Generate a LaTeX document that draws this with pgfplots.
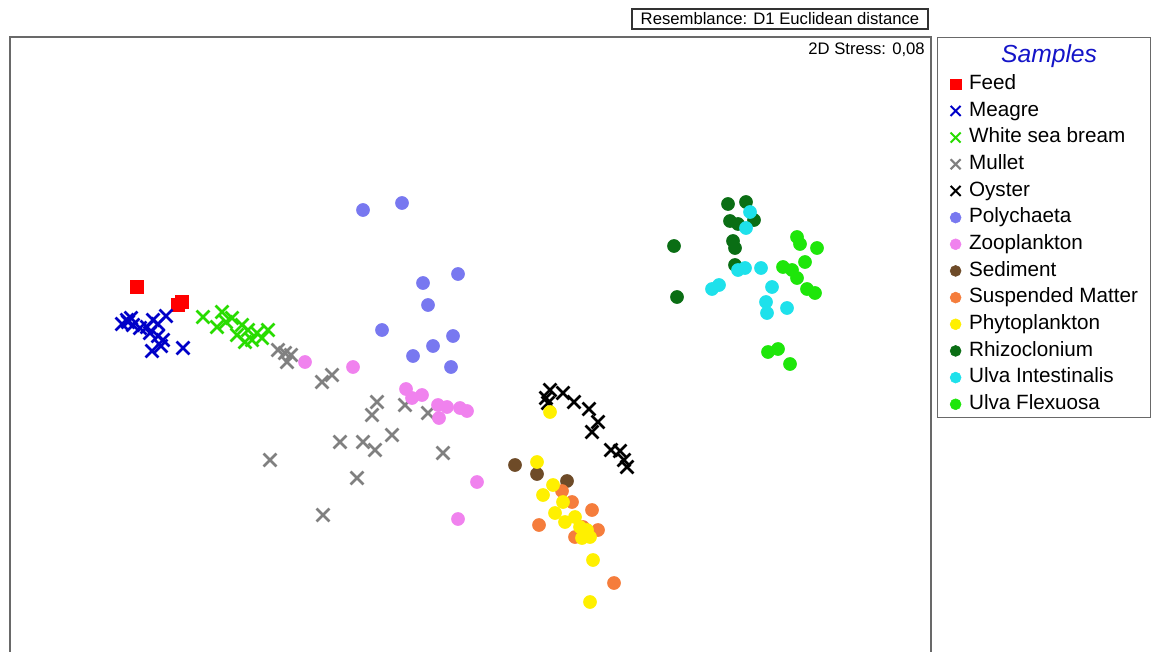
\documentclass[border=0pt]{standalone}
\usepackage{fontspec}
\setmainfont{Liberation Sans}
\usepackage{pgfplots}
\pgfplotsset{compat=1.18}

% colours
\definecolor{frame}{RGB}{105,105,105}
\definecolor{samp}{RGB}{20,20,200}
\definecolor{cFeed}{RGB}{255,0,0}
\definecolor{cMeagre}{RGB}{0,0,200}
\definecolor{cBream}{RGB}{40,220,0}
\definecolor{cMullet}{RGB}{128,128,128}
\definecolor{cOyster}{RGB}{0,0,0}
\definecolor{cPoly}{RGB}{120,120,240}
\definecolor{cZoo}{RGB}{240,130,238}
\definecolor{cSed}{RGB}{110,75,40}
\definecolor{cSusp}{RGB}{245,125,60}
\definecolor{cPhyto}{RGB}{255,240,0}
\definecolor{cRhizo}{RGB}{10,110,20}
\definecolor{cUlvaI}{RGB}{30,225,235}
\definecolor{cUlvaF}{RGB}{30,230,10}

\pgfplotsset{
  cross/.style={only marks, mark=x, mark size=6.8pt, color=#1,
    mark options={line width=2.1pt},
    legend image code/.code={\path[draw=none] (0pt,0pt) -- (17pt,0pt);
      \draw[##1, mark size=5.3pt, mark options={line width=1.5pt}] plot coordinates {(13.5pt,0pt)};}},
  dot/.style={only marks, mark=*, mark size=4.9pt, line width=0.4pt, color=#1},
  sq/.style={only marks, mark=square*, mark size=5pt, line width=0.4pt, color=#1},
}

\begin{document}
\begin{tikzpicture}
\begin{axis}[
  at={(0,0)}, anchor=north west,
  scale only axis, width=690.75pt, height=471pt,
  xmin=10, xmax=931, ymin=-665, ymax=-37,
  xtick=\empty, ytick=\empty,
  axis line style={draw=frame, line width=0.9pt},
  clip=false,
  legend style={at={(1.00651,1)}, anchor=north west, draw=frame, line width=0.9pt,
    font=\fontsize{15.5}{18}\selectfont, inner xsep=0pt, inner ysep=2.5pt,
    row sep=5pt, column sep=6pt,
    nodes={inner sep=0pt, text height=11.5pt, text depth=3.5pt}},
  legend cell align=left,
  legend image code/.code={\path[draw=none] (0pt,0pt) -- (17pt,0pt);
    \draw[#1, mark size=4.1pt] plot coordinates {(13.5pt,0pt)};},
]
\addlegendimage{empty legend}
\addlegendentry[text height=16.5pt]{\makebox[136pt][l]{\hspace{24pt}\color{samp}\fontsize{18.5}{20}\selectfont\itshape Samples}}

\addplot[sq=cFeed] coordinates {(137,-287) (182,-302) (178,-305)};
\addlegendentry{Feed}

\addplot[cross=cMeagre] coordinates {
  (127,-320) (122,-324) (131,-318) (133,-325) (128,-322) (153,-320) (158,-324)
  (166,-316) (150,-333) (158,-336) (163,-340) (152,-351) (161,-346) (183,-348)
  (147,-327) (140,-328)};
\addlegendentry{Meagre}

\addplot[cross=cBream] coordinates {
  (203,-317) (222,-312) (217,-327) (232,-318) (242,-325) (237,-335) (248,-330)
  (252,-340) (257,-333) (262,-338) (268,-330) (245,-342) (226,-322)};
\addlegendentry{White sea bream}

\addplot[cross=cMullet] coordinates {
  (278,-350) (285,-353) (291,-355) (287,-362) (322,-382) (332,-375) (377,-402)
  (372,-415) (405,-405) (428,-413) (340,-442) (363,-442) (375,-450) (392,-435)
  (443,-453) (270,-460) (357,-478) (323,-515)};
\addlegendentry{Mullet}

\addplot[cross=cOyster] coordinates {
  (550,-390) (548,-403) (546,-398) (563,-393) (574,-402) (589,-409) (598,-422)
  (592,-432) (611,-450) (620,-451) (624,-460) (627,-467)};
\addlegendentry{Oyster}

\addplot[dot=cPoly] coordinates {
  (363,-210) (402,-203) (423,-283) (458,-274) (428,-305) (382,-330) (453,-336)
  (433,-346) (413,-356) (451,-367)};
\addlegendentry{Polychaeta}

\addplot[dot=cZoo] coordinates {
  (305,-362) (353,-367) (406,-389) (412,-398) (422,-395) (438,-405) (447,-407)
  (460,-408) (467,-411) (439,-418) (477,-482) (458,-519)};
\addlegendentry{Zooplankton}

\addplot[dot=cSed] coordinates {(515,-465) (537,-474) (567,-481)};
\addlegendentry{Sediment}

\addplot[dot=cSusp] coordinates {
  (562,-491) (572,-502) (592,-510) (539,-525) (598,-530) (575,-537) (614,-583)
  (583,-527)};
\addlegendentry{Suspended Matter}

\addplot[dot=cPhyto] coordinates {
  (550,-412) (537,-462) (553,-485) (543,-495) (563,-502) (555,-513) (565,-522)
  (575,-517) (580,-527) (587,-530) (582,-538) (590,-537) (593,-560) (590,-602)};
\addlegendentry{Phytoplankton}

\addplot[dot=cRhizo] coordinates {
  (728,-204) (746,-202) (730,-221) (738,-224) (754,-220) (733,-241) (735,-248)
  (735,-265) (674,-246) (677,-297)};
\addlegendentry{Rhizoclonium}

\addplot[dot=cUlvaI] coordinates {
  (750,-212) (746,-228) (745,-268) (738,-270) (761,-268) (719,-285) (712,-289)
  (772,-287) (766,-302) (767,-313) (787,-308)};
\addlegendentry{Ulva Intestinalis}

\addplot[dot=cUlvaF] coordinates {
  (797,-237) (800,-244) (817,-248) (805,-262) (783,-267) (792,-270) (797,-278)
  (807,-289) (815,-293) (768,-352) (778,-349) (790,-364)};
\addlegendentry{Ulva Flexuosa}

\node[anchor=east, inner sep=0pt, font=\fontsize{12.5}{14}\selectfont] at (axis cs:925,-50) {2D Stress: 0,08};
\node[draw=black!80, line width=0.8pt, minimum width=222pt, minimum height=15pt, inner sep=0pt,
  font=\fontsize{12.5}{15}\selectfont] at (axis cs:780,-19) {Resemblance: D1 Euclidean distance};

\coordinate (TL) at (axis cs:0,0);
\coordinate (BR) at (axis cs:1151,-652);
\end{axis}
\pgfresetboundingbox
\useasboundingbox (TL) rectangle (BR);
\end{tikzpicture}
\end{document}
